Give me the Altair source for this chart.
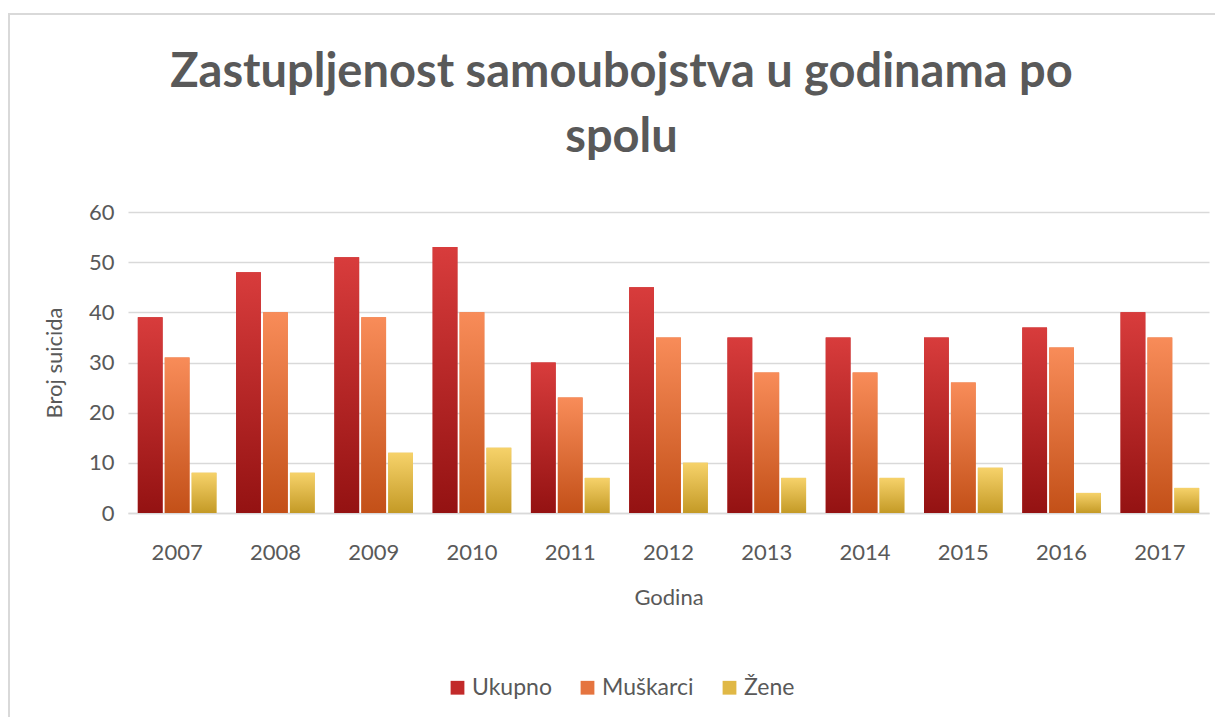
import altair as alt
import pandas as pd

years = ["2007", "2008", "2009", "2010", "2011", "2012", "2013", "2014", "2015", "2016", "2017"]
series = ["Ukupno", "Muškarci", "Žene"]
ukupno = [39, 48, 51, 53, 30, 45, 35, 35, 35, 37, 40]
muskarci = [31, 40, 39, 40, 23, 35, 28, 28, 26, 33, 35]
zene = [8, 8, 12, 13, 7, 10, 7, 7, 9, 4, 5]
y_ticks = [0, 10, 20, 30, 40, 50, 60]

rows = []
for s, vals in zip(series, [ukupno, muskarci, zene]):
    for yr, v in zip(years, vals):
        rows.append({"Godina": yr, "Spol": s, "Broj": v})
df = pd.DataFrame(rows)

solid = ["#C22A2A", "#E5743F", "#E0B845"]
grads = {
    "Ukupno": ("#D83C3C", "#941212"),
    "Muškarci": ("#F88C59", "#C35018"),
    "Žene": ("#F6D26A", "#C49A26"),
}

FONT = "Lato"
GREY = "#595959"

x_enc = alt.X(
    "Godina:N",
    sort=years,
    scale=alt.Scale(paddingInner=0.2, paddingOuter=0.1),
    axis=alt.Axis(
        title="Godina", labelAngle=0, ticks=False, domain=True,
        domainColor="#D9D9D9", domainWidth=1.5, labelPadding=29,
        titlePadding=24,
    ),
)
xo_enc = alt.XOffset("Spol:N", sort=series,
                     scale=alt.Scale(domain=series, paddingInner=0.08))
y_enc = alt.Y(
    "Broj:Q",
    scale=alt.Scale(domain=[0, 60]),
    axis=alt.Axis(
        title="Broj suicida", values=y_ticks, ticks=False, domain=False,
        gridColor="#D9D9D9", gridWidth=1.5, labelPadding=14, titlePadding=22,
    ),
)

base = alt.Chart(df).encode(x=x_enc, xOffset=xo_enc, y=y_enc)

legend_layer = base.mark_bar().encode(
    color=alt.Color(
        "Spol:N",
        sort=series,
        scale=alt.Scale(domain=series, range=solid),
        legend=alt.Legend(
            title=None, orient="none", direction="horizontal",
            legendX=318, legendY=464, symbolType="square", symbolSize=190,
            labelFontSize=23, labelColor=GREY, labelFont=FONT,
            columnPadding=24, symbolStrokeWidth=0, labelOffset=3,
        ),
    )
)

layers = [legend_layer]
for s in series:
    top, bottom = grads[s]
    layers.append(
        base.transform_filter(alt.datum.Spol == s).mark_bar(
            color=alt.Gradient(
                gradient="linear",
                stops=[alt.GradientStop(color=top, offset=0),
                       alt.GradientStop(color=bottom, offset=1)],
                x1=0, x2=0, y1=0, y2=1,
            )
        )
    )

border = alt.Chart(pd.DataFrame({"a": [0]})).mark_rect(
    filled=False, stroke="#D9D9D9", strokeWidth=2
).encode(x=alt.value(-119), x2=alt.value(1110), y=alt.value(-198), y2=alt.value(530))

chart = alt.layer(border, *layers).properties(
    width=1081,
    height=301,
    autosize=alt.AutoSizeParams(type="none"),
    padding={"left": 120, "top": 204, "right": 6, "bottom": 204},
    title=alt.TitleParams(
        text=["Zastupljenost samoubojstva u godinama po", "spolu"],
        anchor="middle", dx=-47, fontSize=47, font=FONT, fontWeight="bold",
        color=GREY, lineHeight=65, offset=-149,
    ),
).configure_axis(
    labelFont=FONT, titleFont=FONT, labelFontSize=22, titleFontSize=22,
    labelColor=GREY, titleColor=GREY, titleFontWeight="normal",
).configure_view(stroke=None)

chart.save("out.html", embed_options={"renderer": "svg", "actions": False})
